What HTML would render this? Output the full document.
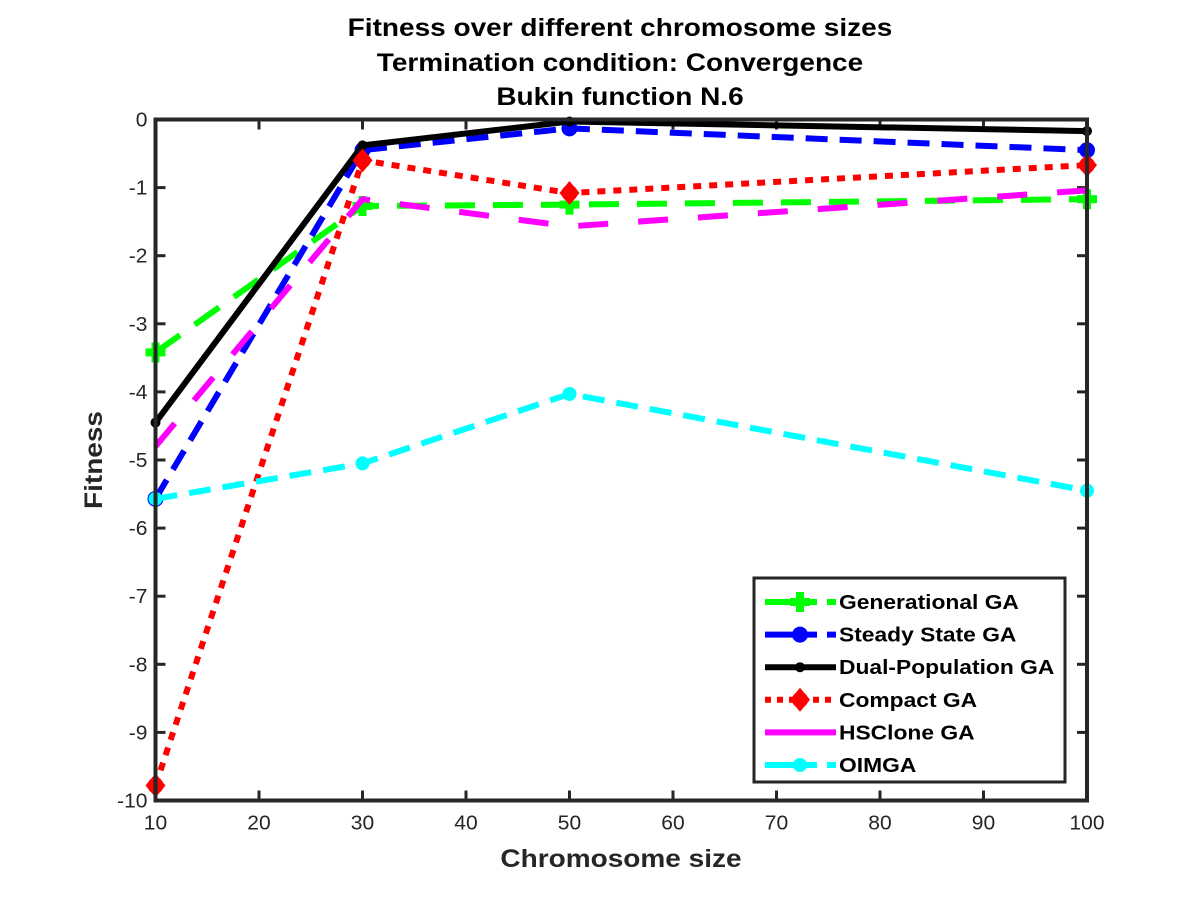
<!DOCTYPE html>
<html><head><meta charset="utf-8"><style>
body{margin:0;background:#fff;}
svg text{font-family:"Liberation Sans",Arial,sans-serif;}
</style></head><body>
<svg id="chart" width="1200" height="900" xmlns="http://www.w3.org/2000/svg">
<rect width="1200" height="900" fill="#fff"/>
<g id="title" font-weight="bold" font-size="25" text-anchor="middle" fill="#000">
<text class="st" data-f="1.12" x="620" y="36">Fitness over different chromosome sizes</text>
<text class="st" data-f="1.12" x="620" y="71">Termination condition: Convergence</text>
<text class="st" data-f="1.12" x="620" y="105">Bukin function N.6</text>
</g>
<g id="ticks"></g>
<g id="series"></g>
<rect x="155.5" y="119.5" width="931.5" height="681" fill="none" stroke="#262626" stroke-width="4"/>
<text class="st" data-f="1.12" x="621" y="867" font-size="25" font-weight="bold" text-anchor="middle" fill="#262626">Chromosome size</text>
<text class="st" data-f="1.12" transform="translate(102,460) rotate(-90)" font-size="25" font-weight="bold" text-anchor="middle" fill="#262626">Fitness</text>
<g id="legend"></g>
</svg>
<script>
const xValues=[10,30,50,100];
const seriesNames=["Generational GA","Steady State GA","Dual-Population GA","Compact GA","HSClone GA","OIMGA"];
const generational=[-3.42,-1.27,-1.25,-1.17];
const steadyState=[-5.57,-0.45,-0.13,-0.45];
const dualPopulation=[-4.45,-0.38,-0.03,-0.17];
const compact=[-9.78,-0.6,-1.08,-0.67];
const hsclone=[-4.8,-1.17,-1.57,-1.04];
const oimga=[-5.57,-5.05,-4.03,-5.45];
const xTicks=[10,20,30,40,50,60,70,80,90,100];
const yTicks=[0,-1,-2,-3,-4,-5,-6,-7,-8,-9,-10];

const NS="http://www.w3.org/2000/svg";
const X0=155.5,X1=1087,Y0=119.5,Y1=800.5;
const xs=v=>X0+(v-10)/90*(X1-X0);
const ys=v=>Y0+(0-v)/10*(Y1-Y0);
function mk(t,a,p){const e=document.createElementNS(NS,t);for(const k in a)e.setAttribute(k,a[k]);p.appendChild(e);return e;}

const tg=document.getElementById('ticks');
xTicks.forEach(v=>{
  const x=xs(v);
  let l=mk('line',{x1:x,x2:x,y1:Y1,y2:Y1-10,stroke:'#262626','stroke-width':3},tg);
  
  
  l=mk('line',{x1:x,x2:x,y1:Y0,y2:Y0+10,stroke:'#262626','stroke-width':3},tg);
  
  
  const t=mk('text',{x:x,y:Y1+29,'font-size':20,'text-anchor':'middle',fill:'#262626','class':'st','data-f':1.05},tg);
  t.textContent=v;
  
  
});
yTicks.forEach(v=>{
  const y=ys(v);
  let l=mk('line',{x1:X0,x2:X0+10,y1:y,y2:y,stroke:'#262626','stroke-width':3},tg);
  
  
  l=mk('line',{x1:X1,x2:X1-10,y1:y,y2:y,stroke:'#262626','stroke-width':3},tg);
  
  
  const t=mk('text',{x:X0-8,y:y+7,'font-size':20,'text-anchor':'end',fill:'#262626','class':'st','data-f':1.05},tg);
  t.textContent=v;
  
  
});

const styles=[
  {d:generational,c:'#00ff00',dash:'30 18',m:'plus',ld:'52 10'},
  {d:steadyState,c:'#0000ff',dash:'22 12',m:'star',ld:'52 10'},
  {d:dualPopulation,c:'#000000',dash:'',m:'dot',ld:''},
  {d:compact,c:'#ff0000',dash:'8 8',m:'diamond',ld:'6 6'},
  {d:hsclone,c:'#ff00ff',dash:'30 30',m:'none',ld:''},
  {d:oimga,c:'#00ffff',dash:'22 12',m:'circle',ld:'52 10'}
];
const sg=document.getElementById('series');
function marker(m,x,y,c,p){
  if(m==='plus'){mk('rect',{x:x-4,y:y-10,width:8,height:20,fill:c},p);mk('rect',{x:x-10,y:y-4,width:20,height:8,fill:c},p);}
  else if(m==='star'){mk('circle',{cx:x,cy:y,r:8,fill:c},p);}
  else if(m==='dot'){mk('circle',{cx:x,cy:y,r:5,fill:c},p);}
  else if(m==='diamond'){mk('polygon',{points:`${x},${y-12} ${x+10},${y} ${x},${y+12} ${x-10},${y}`,fill:c},p);mk('circle',{cx:x,cy:y,r:8,fill:c},p);}
  else if(m==='circle'){mk('circle',{cx:x,cy:y,r:7,fill:c},p);}
}
styles.forEach((s,i)=>{
  const g=mk('g',{},sg);
  
  
  const pts=xValues.map((v,j)=>xs(v)+','+ys(s.d[j])).join(' ');
  const a={points:pts,fill:'none',stroke:s.c,'stroke-width':6,'stroke-linejoin':'round'};
  if(s.dash)a['stroke-dasharray']=s.dash;
  mk('polyline',a,g);
  xValues.forEach((v,j)=>marker(s.m,xs(v),ys(s.d[j]),s.c,g));
});

const lg=document.getElementById('legend');
mk('rect',{x:754,y:578,width:311,height:204,fill:'#fff',stroke:'#262626','stroke-width':3},lg);
styles.forEach((s,i)=>{
  const y=602+i*32.6;
  const e=mk('g',{},lg);
  
  
  const a={x1:765,x2:836,y1:y,y2:y,stroke:s.c,'stroke-width':6};
  if(s.ld)a['stroke-dasharray']=s.ld;
  mk('line',a,e);
  marker(s.m,800,y,s.c,e);
  const t=mk('text',{x:839,y:y+7,'font-size':20,'font-weight':'bold',fill:'#000','class':'st','data-f':1.14},e);
  t.textContent=seriesNames[i];
});
document.querySelectorAll('text.st').forEach(t=>{
  const w=t.getComputedTextLength();
  const f=parseFloat(t.getAttribute('data-f')||'1');
  if(w>0){t.setAttribute('textLength',(w*f).toFixed(1));t.setAttribute('lengthAdjust','spacingAndGlyphs');}
});
</script>
</body></html>
